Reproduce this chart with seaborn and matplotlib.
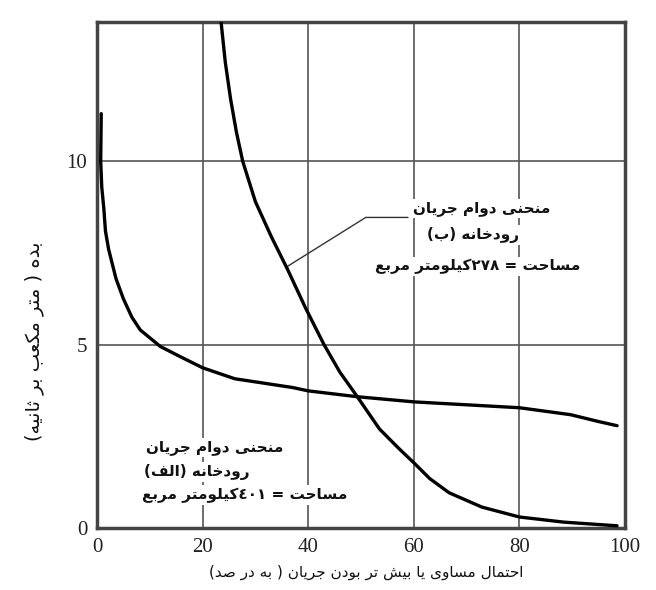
import re

import matplotlib
matplotlib.use("Agg")
import matplotlib.pyplot as plt
import seaborn as sns

# curve (A): river with 401 km2 catchment
x_a = [0.8, 0.7, 0.9, 1.3, 1.6, 2.2, 3.6, 5.0, 6.6, 8.2, 12.0, 15.8, 20.0, 26.1, 37.1, 40.0,
       49.3, 60.0, 70.0, 80.0, 89.7, 95.1, 98.5]
y_a = [11.3, 10.0, 9.3, 8.7, 8.1, 7.6, 6.8, 6.25, 5.75, 5.4, 4.95, 4.67, 4.37, 4.07, 3.83, 3.74,
       3.58, 3.44, 3.36, 3.28, 3.09, 2.9, 2.79]

# curve (B): river with 278 km2 catchment
x_b = [23.5, 24.3, 25.3, 26.4, 27.6, 30.0, 33.0, 36.1, 39.5, 43.0, 46.0, 49.3, 53.5, 57.3,
       60.0, 63.0, 66.7, 72.9, 80.0, 88.4, 98.5]
y_b = [13.8, 12.7, 11.7, 10.8, 10.0, 8.9, 7.95, 7.05, 6.0, 5.0, 4.25, 3.58, 2.7, 2.15,
       1.78, 1.35, 0.96, 0.57, 0.30, 0.16, 0.06]

x_ticks = [0, 20, 40, 60, 80, 100]
y_ticks = [0, 5, 10]

x_title = "احتمال مساوی یا بیش تر بودن جریان ( به در صد)"
y_title = "بده ( متر مکعب بر ثانیه)"
label_b = ["منحنی دوام جریان", "رودخانه (ب)", "مساحت = ٢٧٨کیلومتر مربع"]
label_a = ["منحنی دوام جریان", "رودخانه (الف)", "مساحت = ٤٠١کیلومتر مربع"]

# matplotlib has no arabic shaping, so map letters to presentation forms by hand
# (isolated, final, initial, medial)
FORMS = {
    'ا': (0xFE8D, 0xFE8E, None, None),
    'ب': (0xFE8F, 0xFE90, 0xFE91, 0xFE92),
    'ت': (0xFE95, 0xFE96, 0xFE97, 0xFE98),
    'ث': (0xFE99, 0xFE9A, 0xFE9B, 0xFE9C),
    'ج': (0xFE9D, 0xFE9E, 0xFE9F, 0xFEA0),
    'ح': (0xFEA1, 0xFEA2, 0xFEA3, 0xFEA4),
    'خ': (0xFEA5, 0xFEA6, 0xFEA7, 0xFEA8),
    'د': (0xFEA9, 0xFEAA, None, None),
    'ر': (0xFEAD, 0xFEAE, None, None),
    'س': (0xFEB1, 0xFEB2, 0xFEB3, 0xFEB4),
    'ش': (0xFEB5, 0xFEB6, 0xFEB7, 0xFEB8),
    'ص': (0xFEB9, 0xFEBA, 0xFEBB, 0xFEBC),
    'ع': (0xFEC9, 0xFECA, 0xFECB, 0xFECC),
    'ف': (0xFED1, 0xFED2, 0xFED3, 0xFED4),
    'ل': (0xFEDD, 0xFEDE, 0xFEDF, 0xFEE0),
    'م': (0xFEE1, 0xFEE2, 0xFEE3, 0xFEE4),
    'ن': (0xFEE5, 0xFEE6, 0xFEE7, 0xFEE8),
    'ه': (0xFEE9, 0xFEEA, 0xFEEB, 0xFEEC),
    'و': (0xFEED, 0xFEEE, None, None),
    'ک': (0xFB8E, 0xFB8F, 0xFB90, 0xFB91),
    'ی': (0xFBFC, 0xFBFD, 0xFBFE, 0xFBFF),
}


def shape(s):
    out = []
    for i, c in enumerate(s):
        if c not in FORMS:
            out.append(c)
            continue
        iso, fin, ini, med = FORMS[c]
        prev = s[i - 1] if i > 0 else None
        nxt = s[i + 1] if i + 1 < len(s) else None
        jp = prev in FORMS and FORMS[prev][2] is not None
        jn = nxt in FORMS and ini is not None
        if jp and jn:
            g = med
        elif jp:
            g = fin
        elif jn:
            g = ini
        else:
            g = iso
        out.append(chr(g))
    return ''.join(out)


def rtl(s):
    t = shape(s)[::-1]
    # digits stay left to right
    t = re.sub(r'[0-9\u0660-\u0669\u06F0-\u06F9]+', lambda m: m.group(0)[::-1], t)
    return t.translate(str.maketrans('()', ')('))


sns.set_theme(style="white")
plt.rcParams['font.family'] = ['DejaVu Sans']

fig = plt.figure(figsize=(6.56, 5.90), dpi=100)
ax = fig.add_axes([97 / 656, 62 / 590, 528 / 656, 506 / 590])

sns.lineplot(x=x_a, y=y_a, sort=False, estimator=None, color='black', lw=2.4, ax=ax, zorder=3)
sns.lineplot(x=x_b, y=y_b, sort=False, estimator=None, color='black', lw=2.4, ax=ax, zorder=3)

ax.set_xlim(0, 100)
ax.set_ylim(0, 13.8)
ax.set_xticks(x_ticks)
ax.set_yticks(y_ticks)
ax.grid(True, color='#555555', lw=1.2)
ax.set_axisbelow(True)
for sp in ax.spines.values():
    sp.set_color('#444444')
    sp.set_linewidth(2.5)
ax.tick_params(length=0, pad=7, labelsize=15, colors='#222222')
for lab in ax.get_xticklabels() + ax.get_yticklabels():
    lab.set_family('Liberation Serif')

ax.set_xlabel(rtl(x_title), fontsize=11, color='#111111')
ax.set_ylabel(rtl(y_title), fontsize=14, color='#111111')
ax.xaxis.set_label_coords(0.51, -0.072)
ax.yaxis.set_label_coords(-0.10, 0.37)

# leader line from label (B) to its curve
ax.plot([35.9, 50.9, 58.9], [7.12, 8.47, 8.47], color='#333333', lw=1.0, zorder=2)

box = dict(facecolor='white', edgecolor='none', pad=1.5)
pos_b = [(72.9, 8.72), (71.2, 8.0), (72.1, 7.13)]
pos_a = [(22.2, 2.19), (18.8, 1.53), (27.9, 0.90)]
for txt, (x, y) in zip(label_b, pos_b):
    ax.text(x, y, rtl(txt), ha='center', va='center', fontsize=11, fontweight='bold',
            color='#111111', bbox=box, zorder=4)
for txt, (x, y) in zip(label_a, pos_a):
    ax.text(x, y, rtl(txt), ha='center', va='center', fontsize=11, fontweight='bold',
            color='#111111', bbox=box, zorder=4)

fig.savefig('out.png', dpi=100, facecolor='white')
